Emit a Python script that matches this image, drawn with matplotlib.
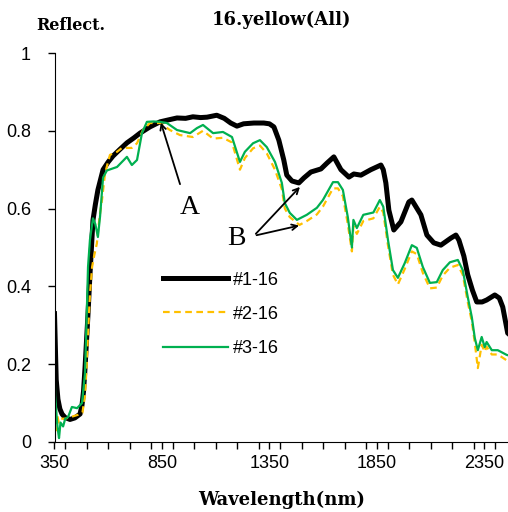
import matplotlib
matplotlib.use('Agg')
import matplotlib.pyplot as plt
from matplotlib.ticker import FixedLocator, MultipleLocator

# sample #1-16 (black, thick)
wl1 = [350, 358, 366, 375, 385, 399, 422, 445, 469, 478,
       485, 492, 499, 506, 515, 524, 529, 540, 552, 576,
       600, 622, 650, 687, 720, 748, 794, 841, 880, 920,
       960, 994, 1030, 1060, 1105, 1140, 1170, 1199, 1230, 1278,
       1324, 1350, 1371, 1394, 1417, 1431, 1455, 1487, 1511, 1543,
       1590, 1618, 1650, 1683, 1720, 1743, 1776, 1822, 1869, 1880,
       1892, 1906, 1929, 1962, 1999, 2013, 2055, 2083, 2115, 2148,
       2194, 2218, 2232, 2255, 2273, 2295, 2315, 2340, 2361, 2399,
       2420, 2436, 2459, 2480, 2500]
r1 = [0.33, 0.16, 0.11, 0.085, 0.072, 0.063, 0.058, 0.062, 0.072, 0.095,
      0.13, 0.19, 0.26, 0.33, 0.43, 0.52, 0.57, 0.61, 0.648, 0.70,
      0.72, 0.735, 0.75, 0.769, 0.782, 0.794, 0.81, 0.823, 0.828, 0.833,
      0.832, 0.836, 0.834, 0.835, 0.84, 0.832, 0.82, 0.812, 0.818, 0.82,
      0.82, 0.818, 0.81, 0.776, 0.725, 0.686, 0.671, 0.666, 0.679, 0.694,
      0.702, 0.717, 0.733, 0.70, 0.681, 0.689, 0.686, 0.70, 0.712, 0.70,
      0.666, 0.596, 0.545, 0.566, 0.617, 0.622, 0.584, 0.532, 0.512, 0.506,
      0.524, 0.532, 0.519, 0.478, 0.43, 0.39, 0.36, 0.36, 0.365, 0.378,
      0.37, 0.347, 0.28, 0.27, 0.26]

# sample #2-16 (orange, dashed)
wl2 = [350, 353, 357, 362, 370, 380, 400, 430, 460, 480,
       492, 500, 506, 515, 525, 535, 547, 560, 571, 585,
       608, 641, 664, 710, 734, 762, 794, 841, 887, 934,
       994, 1041, 1088, 1134, 1176, 1213, 1236, 1274, 1306, 1338,
       1376, 1408, 1422, 1445, 1490, 1524, 1571, 1599, 1646, 1669,
       1692, 1715, 1734, 1741, 1757, 1787, 1834, 1864, 1880, 1902,
       1925, 1948, 1980, 2013, 2036, 2064, 2097, 2129, 2157, 2190,
       2227, 2250, 2273, 2292, 2306, 2320, 2338, 2352, 2361, 2385,
       2413, 2454, 2480, 2500]
r2 = [0.10, 0.05, 0.03, 0.07, 0.05, 0.06, 0.06, 0.065, 0.07, 0.075,
      0.12, 0.20, 0.28, 0.38, 0.45, 0.48, 0.51, 0.58, 0.622, 0.69,
      0.738, 0.746, 0.756, 0.756, 0.768, 0.802, 0.82, 0.82, 0.802, 0.789,
      0.784, 0.80, 0.78, 0.782, 0.77, 0.70, 0.73, 0.755, 0.762, 0.742,
      0.70, 0.65, 0.60, 0.578, 0.558, 0.568, 0.585, 0.605, 0.652, 0.652,
      0.632, 0.56, 0.49, 0.555, 0.535, 0.568, 0.575, 0.605, 0.59, 0.505,
      0.43, 0.405, 0.445, 0.49, 0.483, 0.435, 0.395, 0.397, 0.428, 0.448,
      0.455, 0.43, 0.36, 0.31, 0.255, 0.19, 0.25, 0.232, 0.245, 0.225,
      0.225, 0.21, 0.205, 0.20]

# sample #3-16 (green)
wl3 = [350, 353, 357, 362, 366, 371, 378, 390, 400, 413,
       431, 455, 478, 492, 501, 506, 515, 529, 540, 552,
       562, 576, 594, 641, 687, 710, 734, 757, 780, 810,
       841, 873, 920, 981, 1013, 1041, 1088, 1134, 1176, 1213,
       1236, 1274, 1306, 1338, 1376, 1408, 1422, 1445, 1478, 1524,
       1571, 1599, 1646, 1669, 1692, 1715, 1734, 1741, 1757, 1787,
       1834, 1864, 1880, 1902, 1925, 1948, 1980, 2013, 2036, 2064,
       2097, 2129, 2157, 2190, 2227, 2250, 2273, 2292, 2306, 2320,
       2338, 2352, 2361, 2385, 2413, 2454, 2480, 2500]
r3 = [0.21, 0.12, 0.09, 0.05, 0.03, 0.01, 0.05, 0.04, 0.06, 0.064,
      0.09, 0.087, 0.10, 0.177, 0.347, 0.45, 0.52, 0.575, 0.56, 0.527,
      0.58, 0.68, 0.698, 0.707, 0.733, 0.712, 0.725, 0.794, 0.823, 0.824,
      0.823, 0.82, 0.802, 0.794, 0.807, 0.815, 0.794, 0.797, 0.784, 0.72,
      0.746, 0.768, 0.776, 0.758, 0.72, 0.666, 0.614, 0.589, 0.571, 0.584,
      0.602, 0.622, 0.668, 0.668, 0.648, 0.578, 0.50, 0.571, 0.55, 0.584,
      0.59, 0.622, 0.605, 0.519, 0.442, 0.422, 0.46, 0.506, 0.499, 0.45,
      0.409, 0.411, 0.442, 0.462, 0.468, 0.442, 0.373, 0.321, 0.267, 0.236,
      0.27, 0.244, 0.257, 0.236, 0.236, 0.224, 0.22, 0.215]

labels = ['#1-16', '#2-16', '#3-16']
x_labels = [350, 850, 1350, 1850, 2350]
y_labels = ['0', '0.2', '0.4', '0.6', '0.8', '1']

sans = 'Liberation Sans'
serif = 'Liberation Serif'
bold_serif = 'DejaVu Serif'

fig = plt.figure(figsize=(5.08, 5.12), dpi=100)
# axes run past the right edge like the cropped original
ax = fig.add_axes([54.5 / 508, 70 / 512, 462 / 508, 389 / 512])

ax.plot(wl1, r1, color='black', lw=3.6, label=labels[0], solid_joinstyle='round')
ax.plot(wl2, r2, color='#FFC000', lw=1.6, ls=(0, (3, 2)), label=labels[1])
ax.plot(wl3, r3, color='#00B050', lw=1.6, label=labels[2])

ax.set_xlim(350, 2500)
ax.set_ylim(0, 1)
ax.xaxis.set_major_locator(FixedLocator(x_labels))
ax.xaxis.set_minor_locator(MultipleLocator(100))
ax.set_yticks([0, 0.2, 0.4, 0.6, 0.8, 1])
ax.set_yticklabels(y_labels)
ax.tick_params(which='both', direction='out', length=5, width=1)
ax.tick_params(labelsize=13)
ax.tick_params(axis='y', pad=12)
ax.tick_params(axis='x', pad=4)
for lab in ax.get_xticklabels() + ax.get_yticklabels():
    lab.set_family(sans)
for s in ['top', 'right']:
    ax.spines[s].set_visible(False)

leg = ax.legend(loc='upper left', bbox_to_anchor=(0.2, 0.48), frameon=False,
                handlelength=3.6, labelspacing=0.95, handletextpad=0.25,
                prop={'family': sans, 'size': 13})

# annotations
ax.annotate('', xy=(841, 0.828), xytext=(938, 0.656),
            arrowprops=dict(arrowstyle='->', lw=1.3, color='black'))
ax.text(980, 0.604, 'A', family=serif, fontsize=20, ha='center', va='center')
ax.annotate('', xy=(1501, 0.661), xytext=(1278, 0.530),
            arrowprops=dict(arrowstyle='->', lw=1.3, color='black'))
ax.annotate('', xy=(1501, 0.558), xytext=(1278, 0.530),
            arrowprops=dict(arrowstyle='->', lw=1.3, color='black'))
ax.text(1199, 0.524, 'B', family=serif, fontsize=20, ha='center', va='center')

fig.text(282 / 508, 1 - 20 / 512, '16.yellow(All)', family=bold_serif,
         fontweight='bold', fontsize=13, ha='center', va='center')
fig.text(71 / 508, 1 - 25 / 512, 'Reflect.', family=bold_serif,
         fontweight='bold', fontsize=11.5, ha='center', va='center')
fig.text(282 / 508, 1 - 500 / 512, 'Wavelength(nm)', family=bold_serif,
         fontweight='bold', fontsize=13, ha='center', va='center')

fig.savefig('out.png', dpi=100)
